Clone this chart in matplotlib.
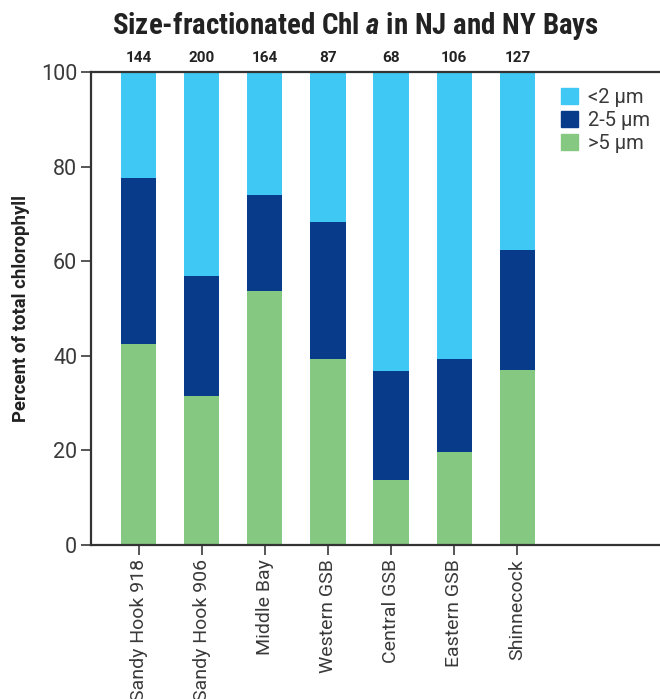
import matplotlib
matplotlib.use("Agg")
import matplotlib.pyplot as plt
import matplotlib.patches as mpatches
import numpy as np

# sites et nombre d'echantillons
sites = ["Sandy Hook 918", "Sandy Hook 906", "Middle Bay", "Western GSB",
         "Central GSB", "Eastern GSB", "Shinnecock"]
n_samples = [144, 200, 164, 87, 68, 106, 127]

# fractions en pourcentage
gt5 = [42.6, 31.4, 53.8, 39.3, 13.7, 19.6, 37.1]
f2to5 = [34.9, 25.4, 20.1, 28.9, 23.0, 19.7, 25.2]
lt2 = [22.5, 43.2, 26.1, 31.8, 63.3, 60.7, 37.7]

COULEURS = {
    "lt2": "#40C8F4",
    "mid": "#083C8A",
    "gt5": "#85C882",
}
GRIS = "#3a3a3a"
COND = ["Roboto Condensed", "Liberation Sans", "DejaVu Sans"]
ROBO = ["Roboto", "Liberation Sans", "DejaVu Sans"]

plt.rcParams["mathtext.fontset"] = "custom"
plt.rcParams["mathtext.it"] = "Roboto Condensed:italic:bold"
plt.rcParams["mathtext.rm"] = "Roboto Condensed:bold"

fig = plt.figure(figsize=(6.6, 6.99), dpi=100)
ax = fig.add_axes([0.138, 0.2203, 0.862, 0.6767])

x = np.arange(len(sites))
w = 0.56
ax.bar(x, gt5, w, color=COULEURS["gt5"])
ax.bar(x, f2to5, w, bottom=gt5, color=COULEURS["mid"])
bot = np.array(gt5) + np.array(f2to5)
ax.bar(x, lt2, w, bottom=bot, color=COULEURS["lt2"])

ax.set_xlim(-0.752, 8.26)
ax.set_ylim(0, 100)
ax.set_yticks([0, 20, 40, 60, 80, 100])
ax.set_xticks(x)
# les deux premiers noms debordent du bas de l'image, comme sur l'original
ax.set_xticklabels(sites, rotation=90, fontsize=14, color=GRIS, family=ROBO)
for lab in ax.get_yticklabels():
    lab.set_fontsize(15.5)
    lab.set_color(GRIS)
    lab.set_family(ROBO)
ax.tick_params(axis="both", direction="out", length=7, width=1.2, color=GRIS, pad=3)

for s in ["left", "top", "bottom"]:
    ax.spines[s].set_color("#333333")
    ax.spines[s].set_linewidth(1.6)
ax.spines["right"].set_visible(False)

# nombre d'echantillons au dessus des barres
for xi, n in zip(x, n_samples):
    ax.text(xi, 101.5, str(n), ha="center", va="bottom", fontsize=11,
            fontweight="bold", color="#222222", family=ROBO)

ax.set_ylabel("Percent of total chlorophyll", fontsize=13.3, fontweight="bold",
              color="#222222", family=ROBO, labelpad=8)

fig.text(0.538, 0.963, "Size-fractionated Chl $\\mathit{a}$ in NJ and NY Bays",
         ha="center", va="center", fontsize=20.9, fontweight="bold",
         color="#222222", family=COND)

patches = [
    mpatches.Patch(color=COULEURS["lt2"], label="<2 \u03bcm"),
    mpatches.Patch(color=COULEURS["mid"], label="2-5 \u03bcm"),
    mpatches.Patch(color=COULEURS["gt5"], label=">5 \u03bcm"),
]
leg = fig.legend(handles=patches, loc="upper left",
                 bbox_to_anchor=(561 / 660, 1 - 88 / 699),
                 frameon=False, borderpad=0, borderaxespad=0,
                 handlelength=0.85, handleheight=0.85,
                 handletextpad=0.5, labelspacing=0.2,
                 prop={"family": ROBO, "size": 14.5})
for t in leg.get_texts():
    t.set_color(GRIS)

fig.savefig("out.png", dpi=100)
